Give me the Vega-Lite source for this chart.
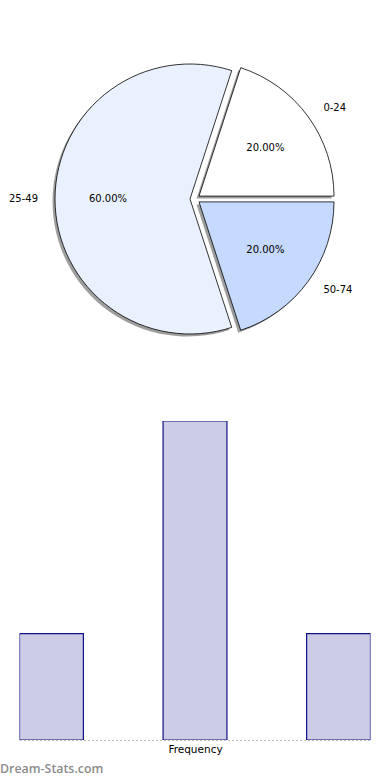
{
  "$schema": "https://vega.github.io/schema/vega-lite/v6.json",
  "padding": 0,
  "background": "white",
  "config": {"view": {"stroke": null}, "font": "DejaVu Sans", "text": {"font": "DejaVu Sans"}},
  "datasets": {
    "ages": [
      {"label": "0-24", "value": 1, "pct": "20.00%"},
      {"label": "25-49", "value": 3, "pct": "60.00%"},
      {"label": "50-74", "value": 1, "pct": "20.00%"}
    ]
  },
  "title": {"text": "Dream-Stats.com", "orient": "bottom", "anchor": "start", "font": "Open Sans", "fontSize": 12.4, "fontWeight": 600, "color": "#8c8c8c", "offset": 8},
  "spacing": 23,
  "center": true,
  "vconcat": [
    {
      "width": 390,
      "height": 398,
      "data": {"name": "ages"},
      "transform": [{"stack": "value", "groupby": [], "sort": [{"field": "label", "order": "descending"}], "as": ["v0", "v1"]}],
      "layer": [
        {
          "transform": [{"filter": "datum.label == '0-24'"}],
          "mark": {"type": "arc", "radius": 135, "xOffset": 1.5, "yOffset": -0.4, "fill": "#9e9e9e"},
          "encoding": {
            "theta": {"field": "v0", "type": "quantitative", "scale": {"domain": [0, 5], "range": [1.5708, 7.854]}},
            "theta2": {"field": "v1"}
          }
        },
        {
          "transform": [{"filter": "datum.label == '50-74'"}],
          "mark": {"type": "arc", "radius": 135, "xOffset": 1.5, "yOffset": 5.4, "fill": "#9e9e9e"},
          "encoding": {"theta": {"field": "v0", "type": "quantitative"}, "theta2": {"field": "v1"}}
        },
        {
          "transform": [{"filter": "datum.label == '25-49'"}],
          "mark": {"type": "arc", "radius": 135, "xOffset": -7.5, "yOffset": 2.5, "fill": "#9e9e9e"},
          "encoding": {"theta": {"field": "v0", "type": "quantitative"}, "theta2": {"field": "v1"}}
        },
        {
          "transform": [{"filter": "datum.label == '0-24'"}],
          "mark": {"type": "arc", "radius": 135, "xOffset": 4, "yOffset": -2.9, "fill": "#ffffff", "stroke": "#000000", "strokeWidth": 0.8},
          "encoding": {"theta": {"field": "v0", "type": "quantitative"}, "theta2": {"field": "v1"}}
        },
        {
          "transform": [{"filter": "datum.label == '50-74'"}],
          "mark": {"type": "arc", "radius": 135, "xOffset": 4, "yOffset": 2.9, "fill": "#c6d9fe", "stroke": "#000000", "strokeWidth": 0.8},
          "encoding": {"theta": {"field": "v0", "type": "quantitative"}, "theta2": {"field": "v1"}}
        },
        {
          "transform": [{"filter": "datum.label == '25-49'"}],
          "mark": {"type": "arc", "radius": 135, "xOffset": -5, "yOffset": 0, "fill": "#eaf1fe", "stroke": "#000000", "strokeWidth": 0.8},
          "encoding": {"theta": {"field": "v0", "type": "quantitative"}, "theta2": {"field": "v1"}}
        },
        {
          "mark": {"type": "text", "radius": 87, "font": "DejaVu Sans", "fontSize": 10, "color": "#000000", "align": "center", "baseline": "middle"},
          "encoding": {
            "theta": {"field": "value", "type": "quantitative", "stack": true},
            "order": {"field": "label", "sort": "descending"},
            "text": {"field": "pct"}
          }
        },
        {
          "mark": {"type": "text", "radius": 155, "font": "DejaVu Sans", "fontSize": 10, "color": "#000000", "align": "left", "baseline": "middle", "dx": 3},
          "encoding": {
            "theta": {"field": "value", "type": "quantitative", "stack": true},
            "order": {"field": "label", "sort": "descending"},
            "text": {"field": "label"},
            "opacity": {"condition": {"test": "datum.label == '25-49'", "value": 0}, "value": 1}
          }
        },
        {
          "mark": {"type": "text", "radius": 157, "font": "DejaVu Sans", "fontSize": 10, "color": "#000000", "align": "right", "baseline": "middle"},
          "encoding": {
            "theta": {"field": "value", "type": "quantitative", "stack": true},
            "order": {"field": "label", "sort": "descending"},
            "text": {"field": "label"},
            "opacity": {"condition": {"test": "datum.label == '25-49'", "value": 1}, "value": 0}
          }
        }
      ]
    },
    {
      "width": 351,
      "height": 319,
      "data": {"name": "ages"},
      "mark": {"type": "bar", "fill": "#cccce5", "stroke": "#10108a", "strokeWidth": 1.2, "clip": true},
      "encoding": {
        "x": {
          "field": "label",
          "type": "nominal",
          "scale": {"paddingInner": 0.555, "paddingOuter": -0.008},
          "axis": {"title": "Frequency", "labels": false, "ticks": false, "domainDash": [2, 2], "domainColor": "#c0c0c0", "domainWidth": 1, "titleFontWeight": "normal", "titleFontSize": 10.5, "titleColor": "#000000", "titlePadding": 4, "titleFont": "DejaVu Sans"}
        },
        "y": {"field": "value", "type": "quantitative", "scale": {"domain": [0, 3]}, "axis": null}
      }
    }
  ]
}
